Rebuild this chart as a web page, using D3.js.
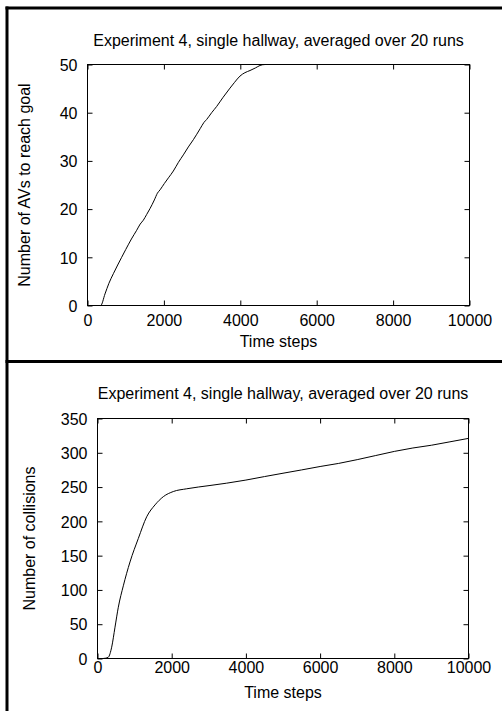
<!DOCTYPE html>
<html><head><meta charset="utf-8">
<script src="https://cdn.jsdelivr.net/npm/d3@7"></script>
<style>
body{margin:0;background:#fff;}
text{font-family:"Liberation Sans",Arial,sans-serif;fill:#000;}
</style></head>
<body>
<svg id="chart" width="502" height="711"></svg>
<script>
const titleText = "Experiment 4, single hallway, averaged over 20 runs";
const xLabel = "Time steps";
const xTicks = [0, 2000, 4000, 6000, 8000, 10000];

// Panel 1: Number of AVs to reach goal
const goalY = "Number of AVs to reach goal";
const goalTicks = [0, 10, 20, 30, 40, 50];
const goalT = [330, 345, 458, 560, 677, 790, 894, 1000, 1150, 1287, 1380, 1462, 1550, 1636, 1750, 1830, 1900, 2011, 2120, 2247, 2380, 2509, 2640, 2771, 2950, 3050, 3120, 3250, 3382, 3550, 3730, 3850, 3992, 4120, 4254, 4400, 4516, 4650, 4750, 10000];
const goalV = [0, 0, 2.4, 4.6, 6.6, 8.4, 10, 11.6, 13.8, 15.6, 16.9, 17.7, 18.9, 20.1, 21.9, 23.3, 24.0, 25.3, 26.5, 27.9, 29.7, 31.25, 32.9, 34.4, 36.7, 38.0, 38.6, 40.0, 41.3, 43.2, 45.1, 46.3, 47.6, 48.3, 48.75, 49.3, 49.8, 50, 50, 50];

// Panel 2: Number of collisions
const collY = "Number of collisions";
const collTicks = [0, 50, 100, 150, 200, 250, 300, 350];
const collT = [0, 150, 220, 292, 382, 472, 561, 696, 876, 1100, 1326, 1550, 1774, 2043, 2404, 3032, 3482, 4000, 4500, 5000, 5500, 6000, 6500, 7000, 7500, 8000, 8500, 9000, 9500, 10000];
const collV = [0, 0, 0.5, 1.9, 16.5, 45.7, 74.8, 106, 140.8, 175, 206.7, 224, 236, 243.5, 247.5, 252.3, 255.7, 260.2, 265.3, 270.2, 275, 280, 284.5, 290, 296, 302, 307, 311, 316, 321];

const FS = "16px";
const svg = d3.select("#chart");

// outer border lines
svg.append("line").attr("x1",7).attr("x2",7).attr("y1",6.5).attr("y2",711).attr("stroke","#000").attr("stroke-width",3);
svg.append("line").attr("x1",5.5).attr("x2",502).attr("y1",8).attr("y2",8).attr("stroke","#000").attr("stroke-width",3);
svg.append("line").attr("x1",5.5).attr("x2",502).attr("y1",361.5).attr("y2",361.5).attr("stroke","#000").attr("stroke-width",3);

function panel(cfg){
  const {left,right,top,bottom,yMax,yTicks,ylab,T,V,titleY,yLabX,xTickY,xLabY} = cfg;
  const x = d3.scaleLinear().domain([0,10000]).range([left,right]);
  const y = d3.scaleLinear().domain([0,yMax]).range([bottom,top]);
  const g = svg.append("g");
  g.append("text").attr("x",(left+right)/2).attr("y",titleY).attr("text-anchor","middle").attr("font-size",FS).text(titleText);
  const fmt = d3.format("d");
  const bAx = g.append("g").attr("transform",`translate(0,${bottom})`).call(d3.axisBottom(x).tickValues(xTicks).tickSize(-5).tickFormat(fmt));
  const tAx = g.append("g").attr("transform",`translate(0,${top})`).call(d3.axisTop(x).tickValues(xTicks).tickSize(-5).tickFormat(""));
  const lAx = g.append("g").attr("transform",`translate(${left},0)`).call(d3.axisLeft(y).tickValues(yTicks).tickSize(-5).tickFormat(fmt));
  const rAx = g.append("g").attr("transform",`translate(${right},0)`).call(d3.axisRight(y).tickValues(yTicks).tickSize(-5).tickFormat(""));
  [bAx,tAx,lAx,rAx].forEach(a=>{a.select(".domain").remove();a.selectAll("line").attr("stroke","#000");a.attr("font-family",null).attr("font-size",null);});
  bAx.selectAll("text").attr("font-size",FS).attr("dy",null).attr("y",xTickY-bottom);
  lAx.selectAll("text").attr("font-size",FS).attr("x",-10).attr("dy","0.36em");
  g.append("rect").attr("x",left).attr("y",top).attr("width",right-left).attr("height",bottom-top).attr("fill","none").attr("stroke","#000").attr("stroke-width",1);
  const data = T.map((t,i)=>[t,V[i]]);
  g.append("path").datum(data).attr("fill","none").attr("stroke","#000").attr("stroke-width",1)
    .attr("d",d3.line().x(d=>x(d[0])).y(d=>y(d[1])).curve(d3.curveMonotoneX));
  g.append("text").attr("x",(left+right)/2).attr("y",xLabY).attr("text-anchor","middle").attr("font-size",FS).text(xLabel);
  g.append("text").attr("transform",`translate(${yLabX},${(top+bottom)/2}) rotate(-90)`).attr("text-anchor","middle").attr("font-size",FS).text(ylab);
}

panel({left:87.5,right:469.5,top:64.5,bottom:305.5,yMax:50,yTicks:goalTicks,ylab:goalY,T:goalT,V:goalV,titleY:46,yLabX:30,xTickY:326,xLabY:347});
panel({left:97.5,right:468.5,top:418.5,bottom:658.5,yMax:350,yTicks:collTicks,ylab:collY,T:collT,V:collV,titleY:399,yLabX:35,xTickY:673,xLabY:698});
</script>
</body></html>
